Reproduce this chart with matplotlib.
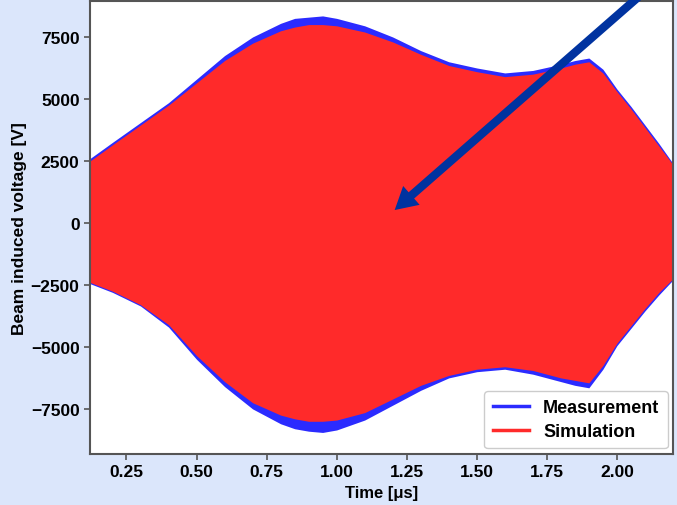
import matplotlib
matplotlib.use('Agg')
from matplotlib import pyplot as plt

# envelope of the beam induced voltage
time_us = [0.12, 0.2, 0.3, 0.4, 0.5, 0.6, 0.7, 0.8, 0.85, 0.9, 0.95, 1.0, 1.1, 1.2,
           1.3, 1.4, 1.5, 1.6, 1.7, 1.8, 1.85, 1.9, 1.95, 2.0, 2.05, 2.1, 2.15, 2.2]
meas_upper = [2600, 3250, 4050, 4850, 5800, 6750, 7500, 8050, 8250, 8300, 8350, 8250, 7950, 7500,
              6950, 6500, 6250, 6050, 6150, 6400, 6550, 6650, 6200, 5400, 4700, 3950, 3200, 2400]
meas_lower = [-2450, -2800, -3350, -4200, -5500, -6600, -7500, -8100, -8300, -8400, -8450, -8350,
              -7950, -7350, -6750, -6250, -6000, -5900, -6100, -6400, -6550, -6650, -5900, -4950,
              -4250, -3550, -2900, -2300]
sim_upper = [2500, 3150, 3950, 4750, 5650, 6550, 7250, 7750, 7900, 8000, 8000, 7950, 7700, 7300,
             6800, 6350, 6100, 5900, 6000, 6250, 6400, 6500, 6050, 5300, 4600, 3850, 3100, 2350]
sim_lower = [-2400, -2750, -3300, -4100, -5350, -6400, -7250, -7750, -7900, -8000, -8000, -7950,
             -7650, -7100, -6550, -6150, -5900, -5800, -5950, -6250, -6350, -6450, -5750, -4850,
             -4150, -3450, -2800, -2250]

# arrow: tip and tail in data coordinates
arrow_tip = (1.207, 520)
arrow_tail = (2.15, 9840)

BLUE = '#2b2bff'
RED = '#ff2a2a'
BG = '#dbe6fb'

plt.rcParams['font.family'] = ['Liberation Sans', 'DejaVu Sans']
plt.rcParams['font.weight'] = 'bold'

fig = plt.figure(figsize=(6.77, 5.06), dpi=100, facecolor=BG)
ax = fig.add_axes([0.133, 0.101, 0.861, 0.895])

ax.fill_between(time_us, meas_lower, meas_upper, color=BLUE, lw=0)
ax.fill_between(time_us, sim_lower, sim_upper, color=RED, lw=0)
# proxy lines for the legend
ax.plot([], [], color=BLUE, lw=2.5, label='Measurement')
ax.plot([], [], color=RED, lw=2.5, label='Simulation')

ax.set_xlim(0.12, 2.2)
ax.set_ylim(-9315, 8950)
ax.set_xticks([0.25, 0.5, 0.75, 1.0, 1.25, 1.5, 1.75, 2.0])
ax.set_yticks([-7500, -5000, -2500, 0, 2500, 5000, 7500])
ax.tick_params(labelsize=12.5, length=4, width=1.2, color='#555555')
for lbl in ax.get_xticklabels() + ax.get_yticklabels():
    lbl.set_fontweight('bold')
for sp in ax.spines.values():
    sp.set_color('#555555')
    sp.set_linewidth(1.5)

ax.set_xlabel('Time [μs]', fontsize=12, fontweight='bold', labelpad=4)
ax.set_ylabel('Beam induced voltage [V]', fontsize=12.5, fontweight='bold', labelpad=3)

leg = ax.legend(loc='lower right', prop={'weight': 'bold', 'size': 13},
                handlelength=2.0, borderpad=0.45, labelspacing=0.4, framealpha=1.0,
                borderaxespad=0.3)

ax.annotate('', xy=arrow_tip, xytext=arrow_tail, xycoords='data', textcoords='data',
            annotation_clip=False,
            arrowprops=dict(width=6, headwidth=18, headlength=16, color='#0033a0',
                            shrink=0, lw=0))

fig.savefig('out.png', dpi=100, facecolor=BG)
